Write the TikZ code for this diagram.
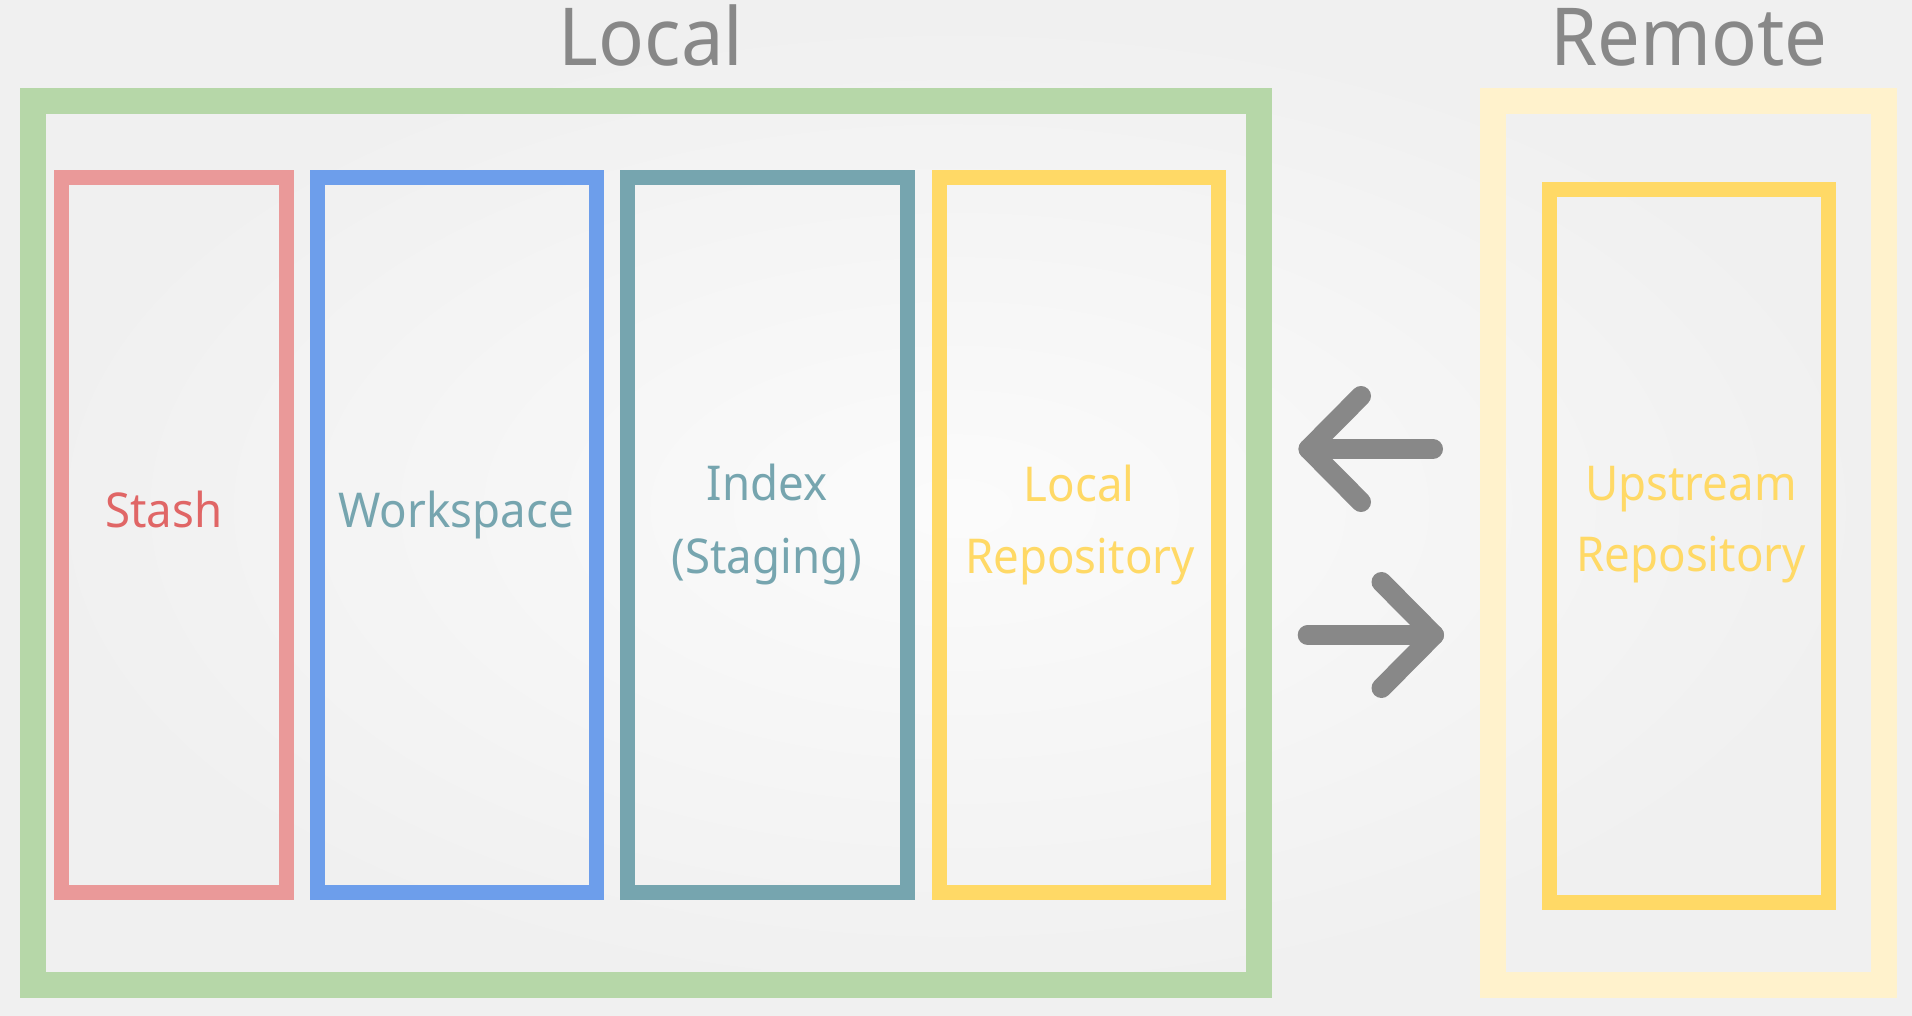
\documentclass[tikz,border=0pt]{standalone}
\usepackage{fontspec}
\setmainfont[FakeStretch=0.95]{Noto Sans}
\definecolor{localgreen}{HTML}{B6D7A8}
\definecolor{stashred}{HTML}{EA9999}
\definecolor{stashtext}{HTML}{E06666}
\definecolor{workblue}{HTML}{6D9EEB}
\definecolor{indexteal}{HTML}{76A5AF}
\definecolor{repoyellow}{HTML}{FFD966}
\definecolor{remoteyellow}{HTML}{FFF2CC}
\definecolor{arrowgray}{HTML}{888888}
\tikzset{
	areabox/.style={line width=13pt},
	partbox/.style={line width=7.5pt},
	boxtext/.style={font=\fontsize{24}{28}\selectfont, anchor=base, inner sep=0pt},
	headtext/.style={font=\fontsize{40}{48}\selectfont, text=arrowgray, anchor=base, inner sep=0pt},
	flow/.style={line width=10pt, draw=arrowgray, line cap=round, line join=round},
}
\begin{document}
\begin{tikzpicture}[x=0.5pt,y=-0.5pt]
	\shade[inner color=white!98.5!black, outer color=white!94!black] (0,0) rectangle (1912,1016);
	\useasboundingbox (0,0) rectangle (1912,1016);
	
	% local side
	\def\ptop{177.5}
	\def\pbot{892.5}
	\draw[areabox, localgreen] (32.5,101) rectangle (1259,985);
	\draw[partbox, stashred] (61.5,\ptop) rectangle (286.5,\pbot);
	\draw[partbox, workblue] (317.5,\ptop) rectangle (596.5,\pbot);
	\draw[partbox, indexteal] (627.5,\ptop) rectangle (907.5,\pbot);
	\draw[partbox, repoyellow] (939.5,\ptop) rectangle (1218.5,\pbot);
	
	\node[headtext] (local) at (651,65.7) {Local};
	\node[boxtext, text=stashtext] (stash) at (164,527.7) {Stash};
	\node[boxtext, text=indexteal] (work) at (456,527.7) {Workspace};
	\node[boxtext, text=indexteal] (idx) at (767,500) {Index};
	\node[boxtext, text=indexteal] (stage) at (767,573) {(Staging)};
	\node[boxtext, text=repoyellow] (lrepo) at (1079,501.7) {Local};
	\node[boxtext, text=repoyellow] (lrepo2) at (1080,573) {Repository};
	
	% remote side
	\draw[areabox, remoteyellow] (1493,101) rectangle (1883.5,985);
	\draw[partbox, repoyellow] (1549.5,189.5) rectangle (1828.5,902.5);
	
	\node[headtext] (remote) at (1689,65.7) {Remote};
	\node[boxtext, text=repoyellow] (urepo) at (1691,500) {Upstream};
	\node[boxtext, text=repoyellow] (urepo2) at (1691,571.7) {Repository};
	
	% fetch / push
	\coordinate (f1) at (1433,449);
	\coordinate (f2) at (1308.5,449);
	\coordinate (f3) at (1361,396);
	\coordinate (f4) at (1361,502);
	\coordinate (p1) at (1307.7,635);
	\coordinate (p2) at (1434,635);
	\coordinate (p3) at (1381.5,582);
	\coordinate (p4) at (1381.5,688);
	\draw[flow] (f1) -- (f2);
	\draw[flow] (f3) -- (f2) -- (f4);
	\draw[flow] (p1) -- (p2);
	\draw[flow] (p3) -- (p2) -- (p4);
\end{tikzpicture}
\end{document}
